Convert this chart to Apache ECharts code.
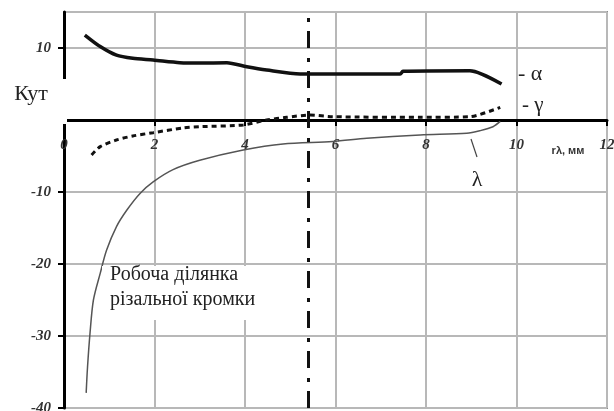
<!DOCTYPE html>
<html>
<head>
<meta charset="utf-8">
<script src="https://cdn.jsdelivr.net/npm/echarts@6/dist/echarts.min.js"></script>
<style>
  html, body { margin: 0; padding: 0; background: #fff; }
  #chart { width: 614px; height: 411px; }
</style>
</head>
<body>
<div id="chart"></div>
<script>
// Radius of the cutting edge point, mm, and the tool angles, degrees
const alphaR = [0.46, 0.80, 1.16, 1.52, 1.97, 2.56, 3.00, 3.60, 4.04, 4.48, 5.22, 5.94, 7.43, 7.49, 8.97, 9.67];
const alphaDeg = [11.8, 10.2, 9.0, 8.57, 8.33, 7.96, 7.9, 7.96, 7.4, 6.94, 6.39, 6.39, 6.39, 6.76, 6.85, 5.0];

const gammaR = [0.61, 0.80, 1.16, 1.52, 1.97, 2.63, 3.00, 3.96, 4.48, 4.92, 5.44, 5.94, 7.87, 8.97, 9.64];
const gammaDeg = [-4.86, -3.7, -2.78, -2.22, -1.76, -1.11, -0.93, -0.69, 0.0, 0.37, 0.69, 0.46, 0.37, 0.46, 1.76];

const lambdaR = [0.49, 0.52, 0.575, 0.65, 0.80, 0.94, 1.16, 1.39, 1.68, 1.97, 2.41, 3.00, 3.96, 4.84, 5.94, 6.69, 7.87, 8.90, 9.19, 9.48, 9.64];
const lambdaDeg = [-37.9, -34.3, -29.6, -25.0, -21.3, -18.1, -14.8, -12.5, -10.2, -8.6, -6.9, -5.6, -4.17, -3.33, -3.0, -2.54, -2.08, -1.85, -1.49, -0.93, -0.2];

// Boundary of the working section of the cutting edge
const workBoundaryR = 5.4;

// Axis settings
const xMin = 0, xMax = 12, xStep = 2;
const yMin = -40, yMax = 15, yStep = 10;

const pairs = (xs, ys) => xs.map((x, i) => [x, ys[i]]);

const serif = '"Liberation Serif", "DejaVu Serif", serif';
const gridTop = 12, gridBottom = 3, chartHeight = 411;
// the radius axis runs along the zero angle line
const plotHeight = chartHeight - gridTop - gridBottom;
const zeroOffset = -plotHeight * (0 - yMin) / (yMax - yMin);

const chart = echarts.init(document.getElementById('chart'));

chart.setOption({
  animation: false,
  backgroundColor: '#fff',
  grid: {
    left: 64, right: 7, top: gridTop, bottom: gridBottom,
    outerBoundsMode: 'none', containLabel: false,
    show: true, borderColor: '#8c8c8c', borderWidth: 2, backgroundColor: 'transparent'
  },
  xAxis: {
    type: 'value', min: xMin, max: xMax, interval: xStep,
    position: 'bottom', offset: zeroOffset,
    axisLine: { onZero: false, lineStyle: { color: '#000', width: 3 } },
    axisTick: { show: true, inside: false, length: 6, lineStyle: { color: '#000', width: 2 } },
    axisLabel: {
      margin: 18, fontFamily: serif, fontStyle: 'italic', fontWeight: 'bold',
      fontSize: 15, color: '#333'
    },
    splitLine: { show: true, lineStyle: { color: '#b8b8b8', width: 2 } }
  },
  yAxis: {
    type: 'value', min: yMin, max: yMax, interval: yStep,
    axisLine: { show: true, lineStyle: { color: '#000', width: 3 } },
    axisTick: { show: true, length: 6, lineStyle: { color: '#000', width: 2 } },
    axisLabel: {
      margin: 13, showMaxLabel: false, fontFamily: serif, fontStyle: 'italic',
      fontWeight: 'bold', fontSize: 15, color: '#333'
    },
    splitLine: { show: true, lineStyle: { color: '#b8b8b8', width: 2 } }
  },
  series: [
    {
      name: 'α', type: 'line', data: pairs(alphaR, alphaDeg),
      smooth: 0.25, symbol: 'none',
      lineStyle: { color: '#111', width: 3.5 }, z: 5
    },
    {
      name: 'γ', type: 'line', data: pairs(gammaR, gammaDeg),
      smooth: 0.25, symbol: 'none',
      lineStyle: { color: '#111', width: 3, type: [5, 4] }, z: 5
    },
    {
      name: 'λ', type: 'line', data: pairs(lambdaR, lambdaDeg),
      smooth: 0.3, symbol: 'none',
      lineStyle: { color: '#555', width: 1.5 }, z: 4,
      markLine: {
        silent: true, symbol: 'none', label: { show: false },
        lineStyle: { color: '#111', width: 3, type: [17, 9, 4, 10] },
        data: [{ xAxis: workBoundaryR }]
      }
    }
  ],
  graphic: [
    // white backing for the axis caption
    { type: 'rect', z: 100, shape: { x: 0, y: 79, width: 67, height: 45 }, style: { fill: '#fff' } },
    { type: 'text', z: 101, x: 31, y: 94,
      style: { text: 'Кут', font: '22px ' + serif, fill: '#222', align: 'center', verticalAlign: 'middle' } },
    // caption of the working section
    { type: 'rect', z: 100, shape: { x: 102, y: 266, width: 165, height: 54 }, style: { fill: '#fff' } },
    { type: 'text', z: 101, x: 110, y: 287,
      style: { text: 'Робоча ділянка\nрізальної кромки', font: '20px ' + serif, lineHeight: 25,
               fill: '#222', align: 'left', verticalAlign: 'middle' } },
    // curve captions
    { type: 'text', z: 101, x: 518, y: 74,
      style: { text: '- α', font: '22px ' + serif, fill: '#222', align: 'left', verticalAlign: 'middle' } },
    { type: 'text', z: 101, x: 522, y: 105,
      style: { text: '- γ', font: '21px ' + serif, fill: '#222', align: 'left', verticalAlign: 'middle' } },
    { type: 'line', z: 101, shape: { x1: 471, y1: 139, x2: 477, y2: 157 },
      style: { stroke: '#444', lineWidth: 1.2 } },
    { type: 'text', z: 101, x: 477, y: 180,
      style: { text: 'λ', font: '22px ' + serif, fill: '#222', align: 'center', verticalAlign: 'middle' } },
    // x axis caption
    { type: 'text', z: 101, x: 568, y: 151,
      style: { text: 'rλ, мм', font: 'bold 11px "Liberation Sans", Arial, sans-serif', fill: '#333',
               align: 'center', verticalAlign: 'middle' } }
  ]
});
</script>
</body>
</html>
